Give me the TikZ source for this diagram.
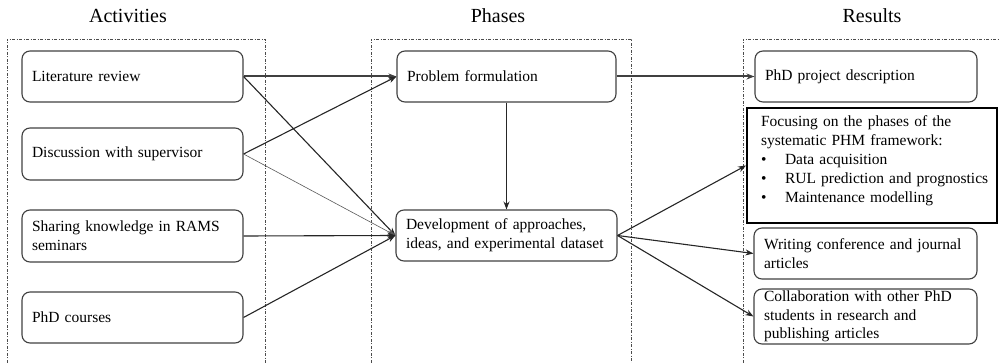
\documentclass[tikz,border=0pt]{standalone}
\usepackage{fontspec}
\setmainfont{Liberation Serif}
\usetikzlibrary{arrows.meta}
\begin{document}
\begin{tikzpicture}[x=1pt,y=-1pt,
  rbox/.style={draw=black!75, line width=1.1pt, rounded corners=8pt, align=left, inner xsep=10pt, inner ysep=0pt, font=\fontsize{15.5}{19}\selectfont},
  sbox/.style={draw=black, line width=2pt, align=left, inner xsep=14pt, inner ysep=0pt, font=\fontsize{15.5}{19}\selectfont},
  ttl/.style={font=\fontsize{20}{24}\selectfont},
  cont/.style={draw=black!70, line width=0.7pt, dash pattern=on 3pt off 1.5pt on 1pt off 1.5pt},
  arr/.style={-{Stealth[length=8pt,width=6pt]}, line width=1.1pt, black!85},
  thk/.style={-{Stealth[length=8pt,width=6pt]}, line width=2pt, black!75},
  thn/.style={-{Stealth[length=8pt,width=6pt]}, line width=0.6pt, black!65}
]
\useasboundingbox (0,0) rectangle (999,363);
\clip (0,0) rectangle (999,363);
% containers
\draw[cont] (7,370) -- (7,39) -- (265,39) -- (265,370);
\draw[cont] (371,370) -- (371,39) -- (631,39) -- (631,370);
\draw[cont] (743,370) -- (743,39) -- (1010,39);
% titles
\node[ttl] (t1) at (128,16) {Activities};
\node[ttl] (t2) at (498,16) {Phases};
\node[ttl] (t3) at (872,16) {Results};
% activities
\node[rbox, minimum width=221pt, minimum height=51pt, text width=201pt] (lit) at (132.5,76.5) {Literature review};
\node[rbox, minimum width=221pt, minimum height=52pt, text width=201pt] (disc) at (132.5,154) {Discussion with supervisor};
\node[rbox, minimum width=221pt, minimum height=52pt, text width=201pt] (share) at (132.5,236) {Sharing knowledge in RAMS\\seminars};
\node[rbox, minimum width=221pt, minimum height=51pt, text width=201pt] (courses) at (132.5,317.5) {PhD courses};
% phases
\node[rbox, minimum width=219pt, minimum height=51pt, text width=199pt] (pf) at (506.5,76.5) {Problem formulation};
\node[rbox, minimum width=221pt, minimum height=51pt, text width=201pt] (dev) at (506.5,235.5) {Development of approaches,\\ideas, and experimental dataset};
% results
\node[rbox, minimum width=222pt, minimum height=51pt, text width=202pt] (phd) at (866,76.5) {PhD project description};
\node[sbox, minimum width=250pt, minimum height=115pt, text width=222pt] (focus) at (872,165.5) {\mbox{Focusing on the phases of the}\\\mbox{systematic PHM framework:}\\\mbox{\makebox[24pt][l]{\textbullet}Data acquisition}\\\mbox{\makebox[24pt][l]{\textbullet}RUL prediction and prognostics}\\\mbox{\makebox[24pt][l]{\textbullet}Maintenance modelling}\rule[-12pt]{0pt}{0pt}};
\node[rbox, minimum width=223pt, minimum height=51pt, text width=203pt] (write) at (865.5,253.5) {Writing conference and journal\\articles};
\node[rbox, minimum width=223pt, minimum height=55pt, text width=203pt, font=\fontsize{15.5}{18.5}\selectfont] (collab) at (865.5,316.5) {Collaboration with other PhD\\students in research and\\publishing articles};
% connectors
\draw[thk] (lit.east) -- (pf.west);
\draw[arr] (lit.east) -- (dev.west);
\draw[arr] (disc.east) -- (pf.west);
\draw[thn] (disc.east) -- (dev.west);
\draw[arr] (share.east) -- (dev.west);
\draw[arr] (courses.east) -- (dev.west);
\draw[arr] (pf.south) -- (dev.north);
\draw[thk] (pf.east) -- (phd.west);
\draw[arr] (dev.east) -- (focus.west);
\draw[arr] (dev.east) -- (write.west);
\draw[arr] (dev.east) -- (collab.west);
\end{tikzpicture}
\end{document}
